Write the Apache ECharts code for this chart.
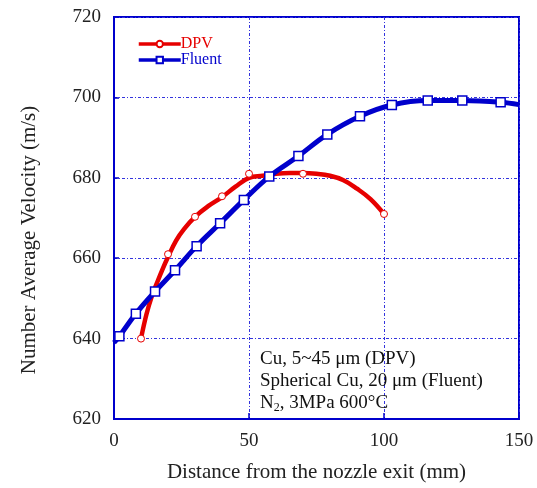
<!DOCTYPE html>
<html>
<head>
<meta charset="utf-8">
<script src="https://cdn.jsdelivr.net/npm/echarts@6/dist/echarts.min.js"></script>
<style>html,body{margin:0;padding:0;background:#fff;}#c{width:537px;height:488px;}</style>
</head>
<body>
<div id="c"></div>
<script>
// ---- data ----
var xTicks = [0, 50, 100, 150];
var yTicks = [620, 640, 660, 680, 700, 720];

// DPV measured points (red circles)
var dpvX = [10, 20, 30, 40, 50, 70, 100];
var dpvY = [640, 661, 670.3, 675.4, 681, 681, 671];
// DPV fitted curve
var dpvCurveX = [10, 12, 14, 16, 18, 20, 23, 26, 30, 35, 40, 45, 50, 55, 60, 65, 70, 75, 80, 85, 90, 95, 100];
var dpvCurveY = [640, 646, 650.5, 654, 657.3, 660.3, 664.4, 667.3, 670.3, 673, 675.2, 677.8, 680, 680.5, 681, 681.2, 681.2, 681, 680.5, 679.4, 677.3, 674.7, 671];

// Fluent markers (blue squares)
var fluentX = [2, 8.1, 15.2, 22.6, 30.6, 39.3, 48.1, 57.5, 68.3, 79, 91.1, 102.9, 116.2, 129, 143.2];
var fluentY = [640.6, 646.2, 651.7, 657, 663, 668.7, 674.5, 680.3, 685.4, 690.8, 695.3, 698.1, 699.2, 699.2, 698.8];
// Fluent curve
var fluentCurveX = [0, 2, 8.1, 15.2, 22.6, 30.6, 39.3, 48.1, 57.5, 68.3, 79, 91.1, 102.9, 116.2, 129, 143.2, 150];
var fluentCurveY = [639, 640.6, 646.2, 651.7, 657, 663, 668.7, 674.5, 680.3, 685.4, 690.8, 695.3, 698.1, 699.2, 699.2, 698.8, 698.2];

var annotLines = ['Cu, 5~45 μm (DPV)', 'Spherical Cu, 20 μm (Fluent)', 'N{sub|2}, 3MPa 600°C'];

function pairs(xs, ys) { return xs.map(function (x, i) { return [x, ys[i]]; }); }

var RED = '#e60000', BLUE = '#0000cc';
var FONT = '"Liberation Serif", "Times New Roman", serif';

var chart = echarts.init(document.getElementById('c'), null, { renderer: 'canvas' });
chart.setOption({
  animation: false,
  backgroundColor: '#ffffff',
  grid: { left: 114, right: 18, top: 17, bottom: 64, show: true, borderColor: BLUE, borderWidth: 2, backgroundColor: 'transparent' },
  legend: {
    data: ['DPV', 'Fluent'],
    orient: 'vertical', left: 137, top: 36, padding: 0,
    itemWidth: 42, itemHeight: 8, itemGap: 0,
    lineStyle: { width: 3.5 },
    formatter: function (n) { return n === 'DPV' ? '{r|DPV}' : '{b|Fluent}'; },
    textStyle: {
      fontFamily: FONT, fontSize: 16, padding: [0, 0, 0, -5],
      rich: { r: { color: RED, fontFamily: FONT, fontSize: 16 }, b: { color: BLUE, fontFamily: FONT, fontSize: 16 } }
    }
  },
  xAxis: {
    type: 'value', min: xTicks[0], max: xTicks[xTicks.length - 1], interval: 50,
    name: 'Distance from the nozzle exit (mm)', nameLocation: 'middle', nameGap: 43,
    nameTextStyle: { fontFamily: FONT, fontSize: 21, color: '#222' },
    axisLine: { show: true, lineStyle: { color: BLUE, width: 2 } },
    axisTick: { show: true, inside: true, length: 6, lineStyle: { color: BLUE, width: 1.5 } },
    axisLabel: { fontFamily: FONT, fontSize: 19, color: '#222', margin: 13 },
    splitLine: { show: true, lineStyle: { color: '#3333dd', width: 1, type: [3, 2, 1, 2] } }
  },
  yAxis: {
    type: 'value', min: yTicks[0], max: yTicks[yTicks.length - 1], interval: 20,
    name: 'Number Average Velocity (m/s)', nameLocation: 'middle', nameGap: 74,
    nameTextStyle: { fontFamily: FONT, fontSize: 21, color: '#222', padding: [0, 44, 0, 0] },
    axisLine: { show: true, lineStyle: { color: BLUE, width: 2 } },
    axisTick: { show: true, inside: true, length: 5, lineStyle: { color: BLUE, width: 1.5 } },
    axisLabel: { fontFamily: FONT, fontSize: 19, color: '#222', margin: 13 },
    splitLine: { show: true, lineStyle: { color: '#3333dd', width: 1, type: [3, 2, 1, 2] } }
  },
  series: [
    {
      name: 'DPV', type: 'line', smooth: 0.4, data: pairs(dpvCurveX, dpvCurveY),
      showSymbol: false, symbol: 'circle', symbolSize: 6,
      lineStyle: { color: RED, width: 4.5 }, itemStyle: { color: '#fff', borderColor: RED, borderWidth: 1 }, z: 2
    },
    {
      name: 'Fluent', type: 'line', smooth: 0.4, data: pairs(fluentCurveX, fluentCurveY),
      showSymbol: false, symbol: 'rect', symbolSize: 8,
      lineStyle: { color: BLUE, width: 5 }, itemStyle: { color: '#fff', borderColor: BLUE, borderWidth: 1.5 }, z: 3
    },
    {
      name: 'DPV points', type: 'scatter', data: pairs(dpvX, dpvY), symbol: 'circle', symbolSize: 7,
      itemStyle: { color: '#fff', borderColor: RED, borderWidth: 1, opacity: 1 }, z: 4
    },
    {
      name: 'Fluent points', type: 'scatter', data: pairs(fluentX, fluentY), symbol: 'rect', symbolSize: 9,
      itemStyle: { color: '#fff', borderColor: BLUE, borderWidth: 1.5, opacity: 1 }, z: 5
    }
  ],
  graphic: [{
    type: 'text', left: 260, top: 348, z: 10,
    style: {
      text: annotLines.join('\n'), fontFamily: FONT, fontSize: 19, lineHeight: 22, fill: '#111',
      rich: { sub: { fontFamily: FONT, fontSize: 12, lineHeight: 22, verticalAlign: 'bottom', fill: '#111', padding: [6, 0, 0, 0] } }
    }
  }]
});
</script>
</body>
</html>
